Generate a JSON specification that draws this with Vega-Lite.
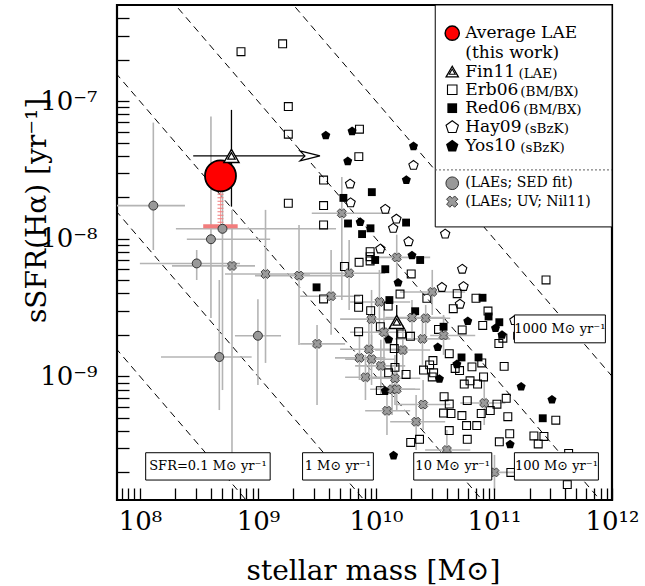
{
"$schema": "https://vega.github.io/schema/vega-lite/v6.json",
"width": 495, "height": 495,
"autosize": {"type": "none"},
"padding": {"left": 117, "top": 5, "right": 33, "bottom": 86},
"background": "white",
"config": {"view": {"stroke": "black", "strokeWidth": 2.2}, "axis": {"grid": false, "domain": false}, "font": "DejaVu Serif"},
"resolve": {"axis": {"x": "independent", "y": "independent"}},
"datasets": {
"sfrlines": [
{"sfr":0.1,"m":1e7,"s":1e-8},{"sfr":0.1,"m":1e13,"s":1e-14},
{"sfr":1,"m":1e7,"s":1e-7},{"sfr":1,"m":1e13,"s":1e-13},
{"sfr":10,"m":1e7,"s":1e-6},{"sfr":10,"m":1e13,"s":1e-12},
{"sfr":100,"m":1e7,"s":1e-5},{"sfr":100,"m":1e13,"s":1e-11},
{"sfr":1000,"m":1e7,"s":1e-4},{"sfr":1000,"m":1e13,"s":1e-10}],
"erb": [
{"m":7.19e8,"s":2.29e-7},{"m":1.62e9,"s":2.61e-7},{"m":1.81e9,"s":9.13e-8},{"m":1.81e9,"s":5.75e-8},
{"m":7.25e9,"s":6.25e-8},{"m":7.16e9,"s":3.95e-8},{"m":3.60e9,"s":2.67e-8},{"m":1.81e9,"s":1.81e-8},
{"m":3.60e9,"s":1.74e-8},{"m":3.60e9,"s":1.26e-8},{"m":8.93e9,"s":8.05e-9},{"m":8.93e9,"s":7.40e-9},
{"m":8.93e9,"s":6.89e-9},{"m":7.20e9,"s":6.74e-9},{"m":5.41e9,"s":6.28e-9},{"m":1.99e10,"s":5.54e-9},
{"m":1.60e10,"s":3.96e-9},{"m":2.70e10,"s":3.69e-9},{"m":3.60e9,"s":3.65e-9},{"m":7.13e9,"s":3.63e-9},
{"m":7.13e9,"s":3.17e-9},{"m":9.02e9,"s":3.00e-9},{"m":1.27e10,"s":3.24e-9},{"m":1.09e10,"s":2.29e-9},
{"m":7.13e9,"s":2.11e-9},{"m":1.65e10,"s":2.03e-9},{"m":1.96e10,"s":1.95e-9},{"m":1.43e10,"s":1.59e-9},
{"m":1.45e10,"s":1.16e-9},{"m":1.28e10,"s":1.06e-9},{"m":1.80e10,"s":1.03e-9},{"m":3.04e10,"s":1.30e-9},
{"m":2.85e10,"s":1.21e-9},{"m":2.53e10,"s":1.11e-9},{"m":3.08e10,"s":1.06e-9},{"m":3.00e10,"s":9.88e-10},
{"m":1.09e10,"s":7.86e-10},{"m":3.78e10,"s":7.10e-10},{"m":4.18e10,"s":6.28e-10},{"m":1.97e10,"s":3.30e-10},
{"m":2.34e10,"s":3.48e-10},{"m":2.76e11,"s":5.01e-9},{"m":4.88e10,"s":3.98e-9},{"m":4.52e10,"s":3.10e-9},
{"m":7.04e10,"s":3.69e-9},{"m":8.90e10,"s":2.98e-9},{"m":8.03e10,"s":2.34e-9},{"m":1.19e11,"s":1.89e-9},
{"m":1.10e11,"s":1.73e-9},{"m":5.38e10,"s":2.17e-9},{"m":3.39e10,"s":2.19e-9},{"m":4.18e10,"s":1.46e-9},
{"m":7.88e10,"s":1.25e-9},{"m":4.69e10,"s":1.14e-9},{"m":5.11e10,"s":1.10e-9},{"m":6.51e10,"s":1.17e-9},
{"m":1.22e11,"s":1.18e-9},{"m":8.16e10,"s":9.88e-10},{"m":5.60e10,"s":8.78e-10},{"m":6.27e10,"s":9.27e-10},
{"m":7.26e10,"s":8.78e-10},{"m":1.27e11,"s":6.91e-10},{"m":1.06e11,"s":6.26e-10},{"m":5.94e10,"s":6.65e-10},
{"m":3.74e10,"s":5.40e-10},{"m":4.32e10,"s":5.36e-10},{"m":5.35e10,"s":5.18e-10},{"m":7.80e10,"s":5.36e-10},
{"m":9.30e10,"s":5.63e-10},{"m":1.31e11,"s":5.08e-10},{"m":3.34e11,"s":4.79e-10},{"m":5.86e10,"s":4.38e-10},
{"m":7.15e10,"s":4.38e-10},{"m":4.18e10,"s":4.03e-10},{"m":5.94e10,"s":3.48e-10},{"m":1.11e11,"s":3.34e-10},
{"m":1.36e11,"s":3.82e-10},{"m":2.18e11,"s":3.68e-10},{"m":2.65e11,"s":3.65e-10},{"m":2.37e11,"s":3.22e-10},
{"m":1.39e11,"s":2.00e-10},{"m":4.18e11,"s":1.63e-10},{"m":4.29e11,"s":2.75e-10}],
"red": [
{"m":9.23e9,"s":2.18e-8},{"m":5.30e9,"s":1.98e-8},{"m":5.80e9,"s":1.29e-8},{"m":7.63e9,"s":1.08e-8},
{"m":8.99e9,"s":1.19e-8},{"m":1.80e10,"s":1.31e-8},{"m":2.37e10,"s":7.00e-9},{"m":9.85e9,"s":7.00e-9},
{"m":1.20e10,"s":6.00e-9},{"m":3.14e9,"s":4.43e-9},{"m":1.30e10,"s":3.58e-9},{"m":2.15e10,"s":2.97e-9},
{"m":3.74e10,"s":2.29e-9},{"m":8.00e10,"s":3.72e-9},{"m":9.00e10,"s":2.72e-9},{"m":1.11e11,"s":2.47e-9},
{"m":1.57e11,"s":1.97e-9},{"m":5.31e10,"s":1.37e-9},{"m":7.40e10,"s":1.37e-9},{"m":2.59e11,"s":4.95e-10}],
"hay": [
{"m":2.08e10,"s":3.44e-8},{"m":6.04e9,"s":2.52e-8},{"m":6.10e9,"s":1.84e-8},{"m":1.20e10,"s":1.65e-8},
{"m":1.49e10,"s":1.40e-8},{"m":1.40e10,"s":1.20e-8},{"m":1.89e10,"s":9.59e-9},{"m":1.09e10,"s":8.49e-9},
{"m":3.86e10,"s":1.09e-8},{"m":3.62e10,"s":4.46e-9},{"m":5.38e10,"s":6.05e-9},{"m":5.52e10,"s":4.53e-9},
{"m":5.15e10,"s":3.37e-9},{"m":1.49e11,"s":2.56e-9}],
"yos": [
{"m":3.76e9,"s":5.68e-8},{"m":6.28e9,"s":6.08e-8},{"m":5.77e9,"s":3.68e-8},{"m":2.08e10,"s":4.73e-8},
{"m":1.81e10,"s":2.69e-8},{"m":7.35e9,"s":1.33e-8},{"m":2.02e10,"s":7.62e-9},{"m":1.54e10,"s":4.82e-9},
{"m":1.28e10,"s":1.86e-9},{"m":1.20e10,"s":7.86e-10},{"m":1.41e10,"s":2.67e-10},{"m":3.34e10,"s":1.64e-9},
{"m":3.45e10,"s":9.63e-10},{"m":6.00e10,"s":2.53e-9},{"m":1.03e11,"s":2.25e-9},{"m":1.17e11,"s":2.01e-9},
{"m":4.85e10,"s":1.23e-9},{"m":1.70e11,"s":8.45e-10},{"m":3.10e11,"s":6.80e-10},{"m":1.37e11,"s":3.22e-10}],
"ind": [
{"kind":"SED","m":1.30e8,"s":1.74e-8,"m_lo":6.38e7,"m_hi":2.41e8,"s_lo":8.28e-9,"s_hi":6.98e-8},
{"kind":"SED","m":5.01e8,"s":1.18e-8,"m_lo":2.02e8,"m_hi":4.59e9,"s_lo":7.94e-10,"s_hi":3.74e-8},
{"kind":"SED","m":4.00e8,"s":9.91e-9,"m_lo":2.50e8,"m_hi":1.27e9,"s_lo":2.65e-9,"s_hi":7.72e-8},
{"kind":"SED","m":3.03e8,"s":6.61e-9,"m_lo":1.00e8,"m_hi":7.05e8,"s_lo":5.01e-9,"s_hi":8.28e-9},
{"kind":"SED","m":1.00e9,"s":1.97e-9,"m_lo":6.39e8,"m_hi":1.57e9,"s_lo":8.64e-10,"s_hi":3.63e-9},
{"kind":"SED","m":4.71e8,"s":1.38e-9,"m_lo":1.51e8,"m_hi":8.85e8,"s_lo":5.68e-10,"s_hi":5.01e-9},
{"kind":"UV","m":6.03e8,"s":6.34e-9,"m_lo":1.87e8,"m_hi":9.45e8,"s_lo":1.76e-10,"s_hi":1.62e-8},
{"kind":"UV","m":1.16e9,"s":5.54e-9,"m_lo":5.26e8,"m_hi":2.76e9,"s_lo":1.25e-9,"s_hi":1.62e-8},
{"kind":"UV","m":2.23e9,"s":5.39e-9,"m_lo":9.45e8,"m_hi":5.48e9,"s_lo":1.69e-9,"s_hi":1.26e-8},
{"kind":"UV","m":5.14e9,"s":1.53e-8,"m_lo":2.86e9,"m_hi":1.32e10,"s_lo":3.58e-9,"s_hi":2.81e-8},
{"kind":"UV","m":5.93e9,"s":5.61e-9,"m_lo":2.28e9,"m_hi":1.20e10,"s_lo":3.03e-9,"s_hi":9.79e-9},
{"kind":"UV","m":1.50e10,"s":7.31e-9,"m_lo":8.93e9,"m_hi":2.88e10,"s_lo":5.01e-9,"s_hi":1.07e-8},
{"kind":"UV","m":4.17e9,"s":3.82e-9,"m_lo":2.28e9,"m_hi":7.35e9,"s_lo":2.00e-9,"s_hi":8.28e-9},
{"kind":"UV","m":1.07e10,"s":3.47e-9,"m_lo":6.04e9,"m_hi":1.95e10,"s_lo":2.00e-9,"s_hi":5.93e-9},
{"kind":"UV","m":3.00e10,"s":4.10e-9,"m_lo":1.60e10,"m_hi":5.71e10,"s_lo":2.79e-9,"s_hi":5.93e-9},
{"kind":"UV","m":9.18e9,"s":2.60e-9,"m_lo":4.97e9,"m_hi":1.60e10,"s_lo":1.55e-9,"s_hi":4.24e-9},
{"kind":"UV","m":2.02e10,"s":2.67e-9,"m_lo":1.20e10,"m_hi":3.86e10,"s_lo":1.84e-9,"s_hi":3.58e-9},
{"kind":"UV","m":2.64e10,"s":2.64e-9,"m_lo":1.60e10,"m_hi":4.26e10,"s_lo":2.00e-9,"s_hi":3.30e-9},
{"kind":"UV","m":1.17e10,"s":2.09e-9,"m_lo":6.04e9,"m_hi":2.15e10,"s_lo":1.11e-9,"s_hi":3.58e-9},
{"kind":"UV","m":2.48e10,"s":1.87e-9,"m_lo":1.46e10,"m_hi":4.26e10,"s_lo":1.21e-9,"s_hi":2.79e-9},
{"kind":"UV","m":3.17e9,"s":1.72e-9,"m_lo":2.28e9,"m_hi":5.48e9,"s_lo":6.18e-10,"s_hi":2.36e-9},
{"kind":"UV","m":8.71e9,"s":1.57e-9,"m_lo":4.97e9,"m_hi":1.60e10,"s_lo":9.39e-10,"s_hi":2.56e-9},
{"kind":"UV","m":1.69e10,"s":1.55e-9,"m_lo":9.85e9,"m_hi":2.88e10,"s_lo":1.02e-9,"s_hi":2.36e-9},
{"kind":"UV","m":7.25e9,"s":1.36e-9,"m_lo":4.50e9,"m_hi":1.20e10,"s_lo":9.39e-10,"s_hi":2.00e-9},
{"kind":"UV","m":9.18e9,"s":1.33e-9,"m_lo":5.48e9,"m_hi":1.46e10,"s_lo":8.64e-10,"s_hi":2.00e-9},
{"kind":"UV","m":1.10e10,"s":1.19e-9,"m_lo":6.66e9,"m_hi":1.77e10,"s_lo":7.31e-10,"s_hi":1.84e-9},
{"kind":"UV","m":1.45e10,"s":9.66e-10,"m_lo":8.93e9,"m_hi":2.37e10,"s_lo":6.18e-10,"s_hi":1.43e-9},
{"kind":"UV","m":8.15e9,"s":9.83e-10,"m_lo":5.48e9,"m_hi":1.20e10,"s_lo":6.72e-10,"s_hi":1.43e-9},
{"kind":"UV","m":1.37e10,"s":8.04e-10,"m_lo":8.93e9,"m_hi":2.15e10,"s_lo":5.23e-10,"s_hi":1.21e-9},
{"kind":"UV","m":1.50e10,"s":8.04e-10,"m_lo":9.85e9,"m_hi":2.37e10,"s_lo":5.68e-10,"s_hi":1.11e-9},
{"kind":"UV","m":2.51e10,"s":6.23e-10,"m_lo":1.46e10,"m_hi":4.26e10,"s_lo":4.06e-10,"s_hi":9.39e-10},
{"kind":"UV","m":1.24e10,"s":5.61e-10,"m_lo":8.10e9,"m_hi":1.95e10,"s_lo":3.74e-10,"s_hi":7.94e-10},
{"kind":"UV","m":2.19e10,"s":4.67e-10,"m_lo":1.32e10,"m_hi":3.86e10,"s_lo":2.91e-10,"s_hi":7.31e-10},
{"kind":"UV","m":3.74e10,"s":1.98e-9,"m_lo":2.88e10,"m_hi":6.94e10,"s_lo":1.43e-9,"s_hi":2.79e-9},
{"kind":"UV","m":8.27e10,"s":6.39e-10,"m_lo":5.18e10,"m_hi":1.25e11,"s_lo":4.42e-10,"s_hi":9.39e-10},
{"kind":"UV","m":3.99e10,"s":2.91e-10,"m_lo":2.61e10,"m_hi":6.30e10,"s_lo":2.08e-10,"s_hi":4.06e-10},
{"kind":"UV","m":1.01e11,"s":2.00e-10,"m_lo":6.94e10,"m_hi":1.52e11,"s_lo":1.49e-10,"s_hi":2.68e-10}],
"fin": [
{"m":5.97e8,"s":4.0e-8,"m_lo":2.83e8,"m_hi":2.76e9,"s_lo":1.71e-8,"s_hi":8.64e-8},
{"m":1.50e10,"s":2.48e-9,"m_lo":1.50e10,"m_hi":1.50e10,"s_lo":1.17e-9,"s_hi":3.30e-9}],
"avg": [{"m":4.82e8,"s":2.86e-8,"s_lo":1.23e-8,"m_lo":3.44e8,"m_hi":6.74e8}],
"boxes": [
{"label":"SFR=0.1 M⊙ yr⁻¹","m":3.77e8,"s":2.21e-10,"m_lo":1.12e8,"m_hi":1.27e9,"s_lo":1.76e-10,"s_hi":2.78e-10},
{"label":"1 M⊙ yr⁻¹","m":4.76e9,"s":2.21e-10,"m_lo":2.39e9,"m_hi":9.51e9,"s_lo":1.76e-10,"s_hi":2.78e-10},
{"label":"10 M⊙ yr⁻¹","m":4.47e10,"s":2.21e-10,"m_lo":2.09e10,"m_hi":9.58e10,"s_lo":1.76e-10,"s_hi":2.78e-10},
{"label":"100 M⊙ yr⁻¹","m":3.38e11,"s":2.21e-10,"m_lo":1.49e11,"m_hi":7.67e11,"s_lo":1.76e-10,"s_hi":2.78e-10},
{"label":"1000 M⊙ yr⁻¹","m":3.61e11,"s":2.21e-9,"m_lo":1.49e11,"m_hi":8.79e11,"s_lo":1.75e-9,"s_hi":2.79e-9}],
"legbox": [{"m_lo":3.18e10,"m_hi":1e12,"s_lo":1.218e-8,"s_hi":5e-7}]
},
"encoding": {
"x": {"field":"m","type":"quantitative","scale":{"type":"log","domain":[6.4e7,1e12],"nice":false},"axis":null},
"y": {"field":"s","type":"quantitative","scale":{"type":"log","domain":[1.26e-10,5e-7],"nice":false},"axis":null}
},
"layer": [
{"data":{"name":"sfrlines"},"mark":{"type":"line","clip":true,"stroke":"black","strokeWidth":1,"strokeDash":[7,5]},
 "encoding":{
  "x":{"field":"m","type":"quantitative","scale":{"type":"log","domain":[6.4e7,1e12],"nice":false},
   "axis":{"orient":"bottom","values":[7e7,8e7,9e7,1e8,2e8,3e8,4e8,5e8,6e8,7e8,8e8,9e8,1e9,2e9,3e9,4e9,5e9,6e9,7e9,8e9,9e9,1e10,2e10,3e10,4e10,5e10,6e10,7e10,8e10,9e10,1e11,2e11,3e11,4e11,5e11,6e11,7e11,8e11,9e11,1e12],
    "ticks":true,"tickSize":-12,"tickColor":"black","tickWidth":1.3,"domain":false,"grid":false,"zindex":1,
    "labelExpr":"datum.value == 1e8 ? '10⁸' : datum.value == 1e9 ? '10⁹' : datum.value == 1e10 ? '10¹⁰' : datum.value == 1e11 ? '10¹¹' : datum.value == 1e12 ? '10¹²' : ''",
    "labelFont":"DejaVu Serif","labelFontSize":26,"labelColor":"black","labelPadding":20,"labelBaseline":"top","labelFlush":false,"labelOverlap":false,"labelBound":false,
    "title":"stellar mass [M⊙]","titleFont":"DejaVu Serif","titleFontSize":28,"titleFontWeight":"normal","titleColor":"black","titleX":256,"titleY":79,"titleBaseline":"alphabetic","titleAlign":"center"}},
  "y":{"field":"s","type":"quantitative","scale":{"type":"log","domain":[1.26e-10,5e-7],"nice":false},
   "axis":{"orient":"left","values":[2e-10,3e-10,4e-10,5e-10,6e-10,7e-10,8e-10,9e-10,1e-9,2e-9,3e-9,4e-9,5e-9,6e-9,7e-9,8e-9,9e-9,1e-8,2e-8,3e-8,4e-8,5e-8,6e-8,7e-8,8e-8,9e-8,1e-7,2e-7,3e-7,4e-7],
    "ticks":true,"tickSize":-12,"tickColor":"black","tickWidth":1.3,"domain":false,"grid":false,"zindex":1,
    "labelExpr":"datum.value == 1e-9 ? '10⁻⁹' : datum.value == 1e-8 ? '10⁻⁸' : datum.value == 1e-7 ? '10⁻⁷' : ''",
    "labelFont":"DejaVu Serif","labelFontSize":26,"labelColor":"black","labelPadding":32,"labelBaseline":"middle","labelAlign":"right","labelFlush":false,"labelOverlap":false,"labelBound":false,
    "title":"sSFR(Hα) [yr⁻¹]","titleFont":"DejaVu Serif","titleFontSize":28,"titleFontWeight":"normal","titleColor":"black","titleX":-80,"titleY":205,"titleAngle":-90,"titleAlign":"center","titleBaseline":"middle"}},
  "detail":{"field":"sfr","type":"nominal"}}},
{"data":{"name":"ind"},"mark":{"type":"rule","stroke":"#b4b4b4","strokeWidth":1.6,"clip":true},
 "encoding":{"x":{"field":"m_lo","type":"quantitative","scale":{"type":"log","domain":[6.4e7,1e12],"nice":false},"axis":null},"x2":{"field":"m_hi"}}},
{"data":{"name":"ind"},"mark":{"type":"rule","stroke":"#b4b4b4","strokeWidth":1.6,"clip":true},
 "encoding":{"y":{"field":"s_lo","type":"quantitative","scale":{"type":"log","domain":[1.26e-10,5e-7],"nice":false},"axis":null},"y2":{"field":"s_hi"}}},
{"data":{"name":"fin"},"transform":[{"filter":"datum.m_hi > datum.m"}],"mark":{"type":"rule","stroke":"black","strokeWidth":1.3},
 "encoding":{"x":{"field":"m_lo","type":"quantitative","scale":{"type":"log","domain":[6.4e7,1e12],"nice":false},"axis":null},"x2":{"field":"m_hi"}}},
{"data":{"name":"fin"},"mark":{"type":"rule","stroke":"black","strokeWidth":1.3},
 "encoding":{"y":{"field":"s_lo","type":"quantitative","scale":{"type":"log","domain":[1.26e-10,5e-7],"nice":false},"axis":null},"y2":{"field":"s_hi"}}},
{"data":{"name":"avg"},"mark":{"type":"rule","stroke":"#f4a3a3","strokeWidth":1},
 "encoding":{"y":{"field":"s_lo","type":"quantitative","scale":{"type":"log","domain":[1.26e-10,5e-7],"nice":false},"axis":null},"y2":{"field":"s"}}},
{"data":{"name":"avg"},"mark":{"type":"rule","stroke":"#f27d7d","strokeWidth":6,"strokeDash":[1.2,2.3]},
 "encoding":{"y":{"field":"s_lo","type":"quantitative","scale":{"type":"log","domain":[1.26e-10,5e-7],"nice":false},"axis":null},"y2":{"field":"s"}}},
{"data":{"name":"avg"},"mark":{"type":"rule","stroke":"#f27d7d","strokeWidth":4},
 "encoding":{"x":{"field":"m_lo","type":"quantitative","scale":{"type":"log","domain":[6.4e7,1e12],"nice":false},"axis":null},"x2":{"field":"m_hi"},
  "y":{"field":"s_lo","type":"quantitative","scale":{"type":"log","domain":[1.26e-10,5e-7],"nice":false},"axis":null}}},
{"data":{"name":"erb"},"mark":{"type":"point","shape":"square","filled":false,"stroke":"black","strokeWidth":1.1,"size":62,"opacity":1}},
{"data":{"name":"red"},"mark":{"type":"point","shape":"square","filled":true,"fill":"black","strokeWidth":0,"size":62,"opacity":1}},
{"data":{"name":"hay"},"mark":{"type":"point","shape":"M0,-0.905L0.951,-0.214L0.588,0.905L-0.588,0.905L-0.951,-0.214Z","filled":false,"stroke":"black","strokeWidth":1.1,"size":95,"opacity":1}},
{"data":{"name":"yos"},"mark":{"type":"point","shape":"M0,-0.905L0.951,-0.214L0.588,0.905L-0.588,0.905L-0.951,-0.214Z","filled":true,"fill":"black","strokeWidth":0,"size":90,"opacity":1}},
{"data":{"name":"ind"},"transform":[{"filter":"datum.kind == 'UV'"}],"mark":{"type":"point","shape":"cross","angle":45,"filled":true,"fill":"#9a9a9a","stroke":"#333333","strokeWidth":0.8,"size":85,"opacity":1}},
{"data":{"name":"ind"},"transform":[{"filter":"datum.kind == 'SED'"}],"mark":{"type":"point","shape":"circle","filled":true,"fill":"#999999","stroke":"#333333","strokeWidth":1,"size":80,"opacity":1}},
{"data":{"name":"fin"},"transform":[{"filter":"datum.m_hi > datum.m"}],"mark":{"type":"point","shape":"M-1,-0.5L1,0L-1,0.5L-0.5,0Z","filled":true,"fill":"white","stroke":"black","strokeWidth":1.2,"size":400,"opacity":1},
 "encoding":{"x":{"field":"m_hi","type":"quantitative","scale":{"type":"log","domain":[6.4e7,1e12],"nice":false},"axis":null}}},
{"data":{"name":"avg"},"mark":{"type":"point","shape":"circle","filled":true,"fill":"#ff0000","stroke":"black","strokeWidth":1.8,"size":960,"opacity":1}},
{"data":{"name":"fin"},"mark":{"type":"point","shape":"triangle-up","filled":true,"fill":"white","stroke":"black","strokeWidth":1.4,"size":230,"opacity":1}},
{"data":{"name":"fin"},"mark":{"type":"point","shape":"triangle-up","filled":true,"fill":"white","stroke":"black","strokeWidth":1.2,"size":55,"opacity":1}},
{"data":{"name":"boxes"},"mark":{"type":"rect","fill":"white","stroke":"black","strokeWidth":1},
 "encoding":{"x":{"field":"m_lo","type":"quantitative","scale":{"type":"log","domain":[6.4e7,1e12],"nice":false},"axis":null},"x2":{"field":"m_hi"},
  "y":{"field":"s_lo","type":"quantitative","scale":{"type":"log","domain":[1.26e-10,5e-7],"nice":false},"axis":null},"y2":{"field":"s_hi"}}},
{"data":{"name":"boxes"},"mark":{"type":"text","font":"DejaVu Serif","fontSize":13,"color":"black","align":"center","baseline":"middle"},
 "encoding":{"text":{"field":"label"}}},
{"data":{"name":"legbox"},"mark":{"type":"rect","fill":"white","stroke":"black","strokeWidth":1},
 "encoding":{"x":{"field":"m_lo","type":"quantitative","scale":{"type":"log","domain":[6.4e7,1e12],"nice":false},"axis":null},"x2":{"field":"m_hi"},
  "y":{"field":"s_lo","type":"quantitative","scale":{"type":"log","domain":[1.26e-10,5e-7],"nice":false},"axis":null},"y2":{"field":"s_hi"}}},
{"data":{"values":[{"m_lo":3.18e10,"m_hi":1e12,"s":3.16e-8}]},"mark":{"type":"rule","stroke":"#555555","strokeWidth":1.2,"strokeDash":[1.5,2.5]},
 "encoding":{"x":{"field":"m_lo","type":"quantitative","scale":{"type":"log","domain":[6.4e7,1e12],"nice":false},"axis":null},"x2":{"field":"m_hi"}}},
{"data":{"values":[{"m":4.43e10,"s":3.12e-7}]},"mark":{"type":"point","shape":"circle","filled":true,"fill":"#ff0000","stroke":"black","strokeWidth":1.5,"size":200,"opacity":1}},
{"data":{"values":[{"m":4.43e10,"s":1.64e-7}]},"mark":{"type":"point","shape":"triangle-up","filled":true,"fill":"white","stroke":"black","strokeWidth":1.3,"size":150,"opacity":1}},
{"data":{"values":[{"m":4.43e10,"s":1.64e-7}]},"mark":{"type":"point","shape":"triangle-up","filled":true,"fill":"white","stroke":"black","strokeWidth":1.1,"size":36,"opacity":1}},
{"data":{"values":[{"m":4.43e10,"s":1.21e-7}]},"mark":{"type":"point","shape":"square","filled":false,"stroke":"black","strokeWidth":1.1,"size":90,"opacity":1}},
{"data":{"values":[{"m":4.43e10,"s":8.89e-8}]},"mark":{"type":"point","shape":"square","filled":true,"fill":"black","strokeWidth":0,"size":95,"opacity":1}},
{"data":{"values":[{"m":4.43e10,"s":6.53e-8}]},"mark":{"type":"point","shape":"M0,-0.905L0.951,-0.214L0.588,0.905L-0.588,0.905L-0.951,-0.214Z","filled":false,"stroke":"black","strokeWidth":1.1,"size":170,"opacity":1}},
{"data":{"values":[{"m":4.43e10,"s":4.75e-8}]},"mark":{"type":"point","shape":"M0,-0.905L0.951,-0.214L0.588,0.905L-0.588,0.905L-0.951,-0.214Z","filled":true,"fill":"black","strokeWidth":0,"size":170,"opacity":1}},
{"data":{"values":[{"m":4.43e10,"s":2.53e-8}]},"mark":{"type":"point","shape":"circle","filled":true,"fill":"#999999","stroke":"#333333","strokeWidth":1,"size":160,"opacity":1}},
{"data":{"values":[{"m":4.43e10,"s":1.86e-8}]},"mark":{"type":"point","shape":"cross","angle":45,"filled":true,"fill":"#9a9a9a","stroke":"#333333","strokeWidth":0.9,"size":130,"opacity":1}},
{"data":{"values":[
 {"m":5.71e10,"s":3.12e-7,"t":"Average LAE"},{"m":5.71e10,"s":2.23e-7,"t":"(this work)"},{"m":5.71e10,"s":1.64e-7,"t":"Fin11"},
 {"m":5.71e10,"s":1.21e-7,"t":"Erb06"},{"m":5.71e10,"s":8.89e-8,"t":"Red06"},{"m":5.71e10,"s":6.53e-8,"t":"Hay09"},{"m":5.71e10,"s":4.75e-8,"t":"Yos10"}]},
 "mark":{"type":"text","font":"DejaVu Serif","fontSize":17,"color":"black","align":"left","baseline":"middle"},"encoding":{"text":{"field":"t"}}},
{"data":{"values":[
 {"m":1.61e11,"s":1.64e-7,"t":"(LAE)"},{"m":1.67e11,"s":1.21e-7,"t":"(BM/BX)"},{"m":1.77e11,"s":8.89e-8,"t":"(BM/BX)"},
 {"m":1.81e11,"s":6.53e-8,"t":"(sBzK)"},{"m":1.67e11,"s":4.75e-8,"t":"(sBzK)"}]},
 "mark":{"type":"text","font":"DejaVu Serif","fontSize":13.5,"color":"black","align":"left","baseline":"middle","dy":2},"encoding":{"text":{"field":"t"}}},
{"data":{"values":[{"m":5.71e10,"s":2.53e-8,"t":"(LAEs; SED fit)"},{"m":5.71e10,"s":1.86e-8,"t":"(LAEs; UV; Nil11)"}]},
 "mark":{"type":"text","font":"DejaVu Serif","fontSize":14,"color":"black","align":"left","baseline":"middle"},"encoding":{"text":{"field":"t"}}}
]
}
